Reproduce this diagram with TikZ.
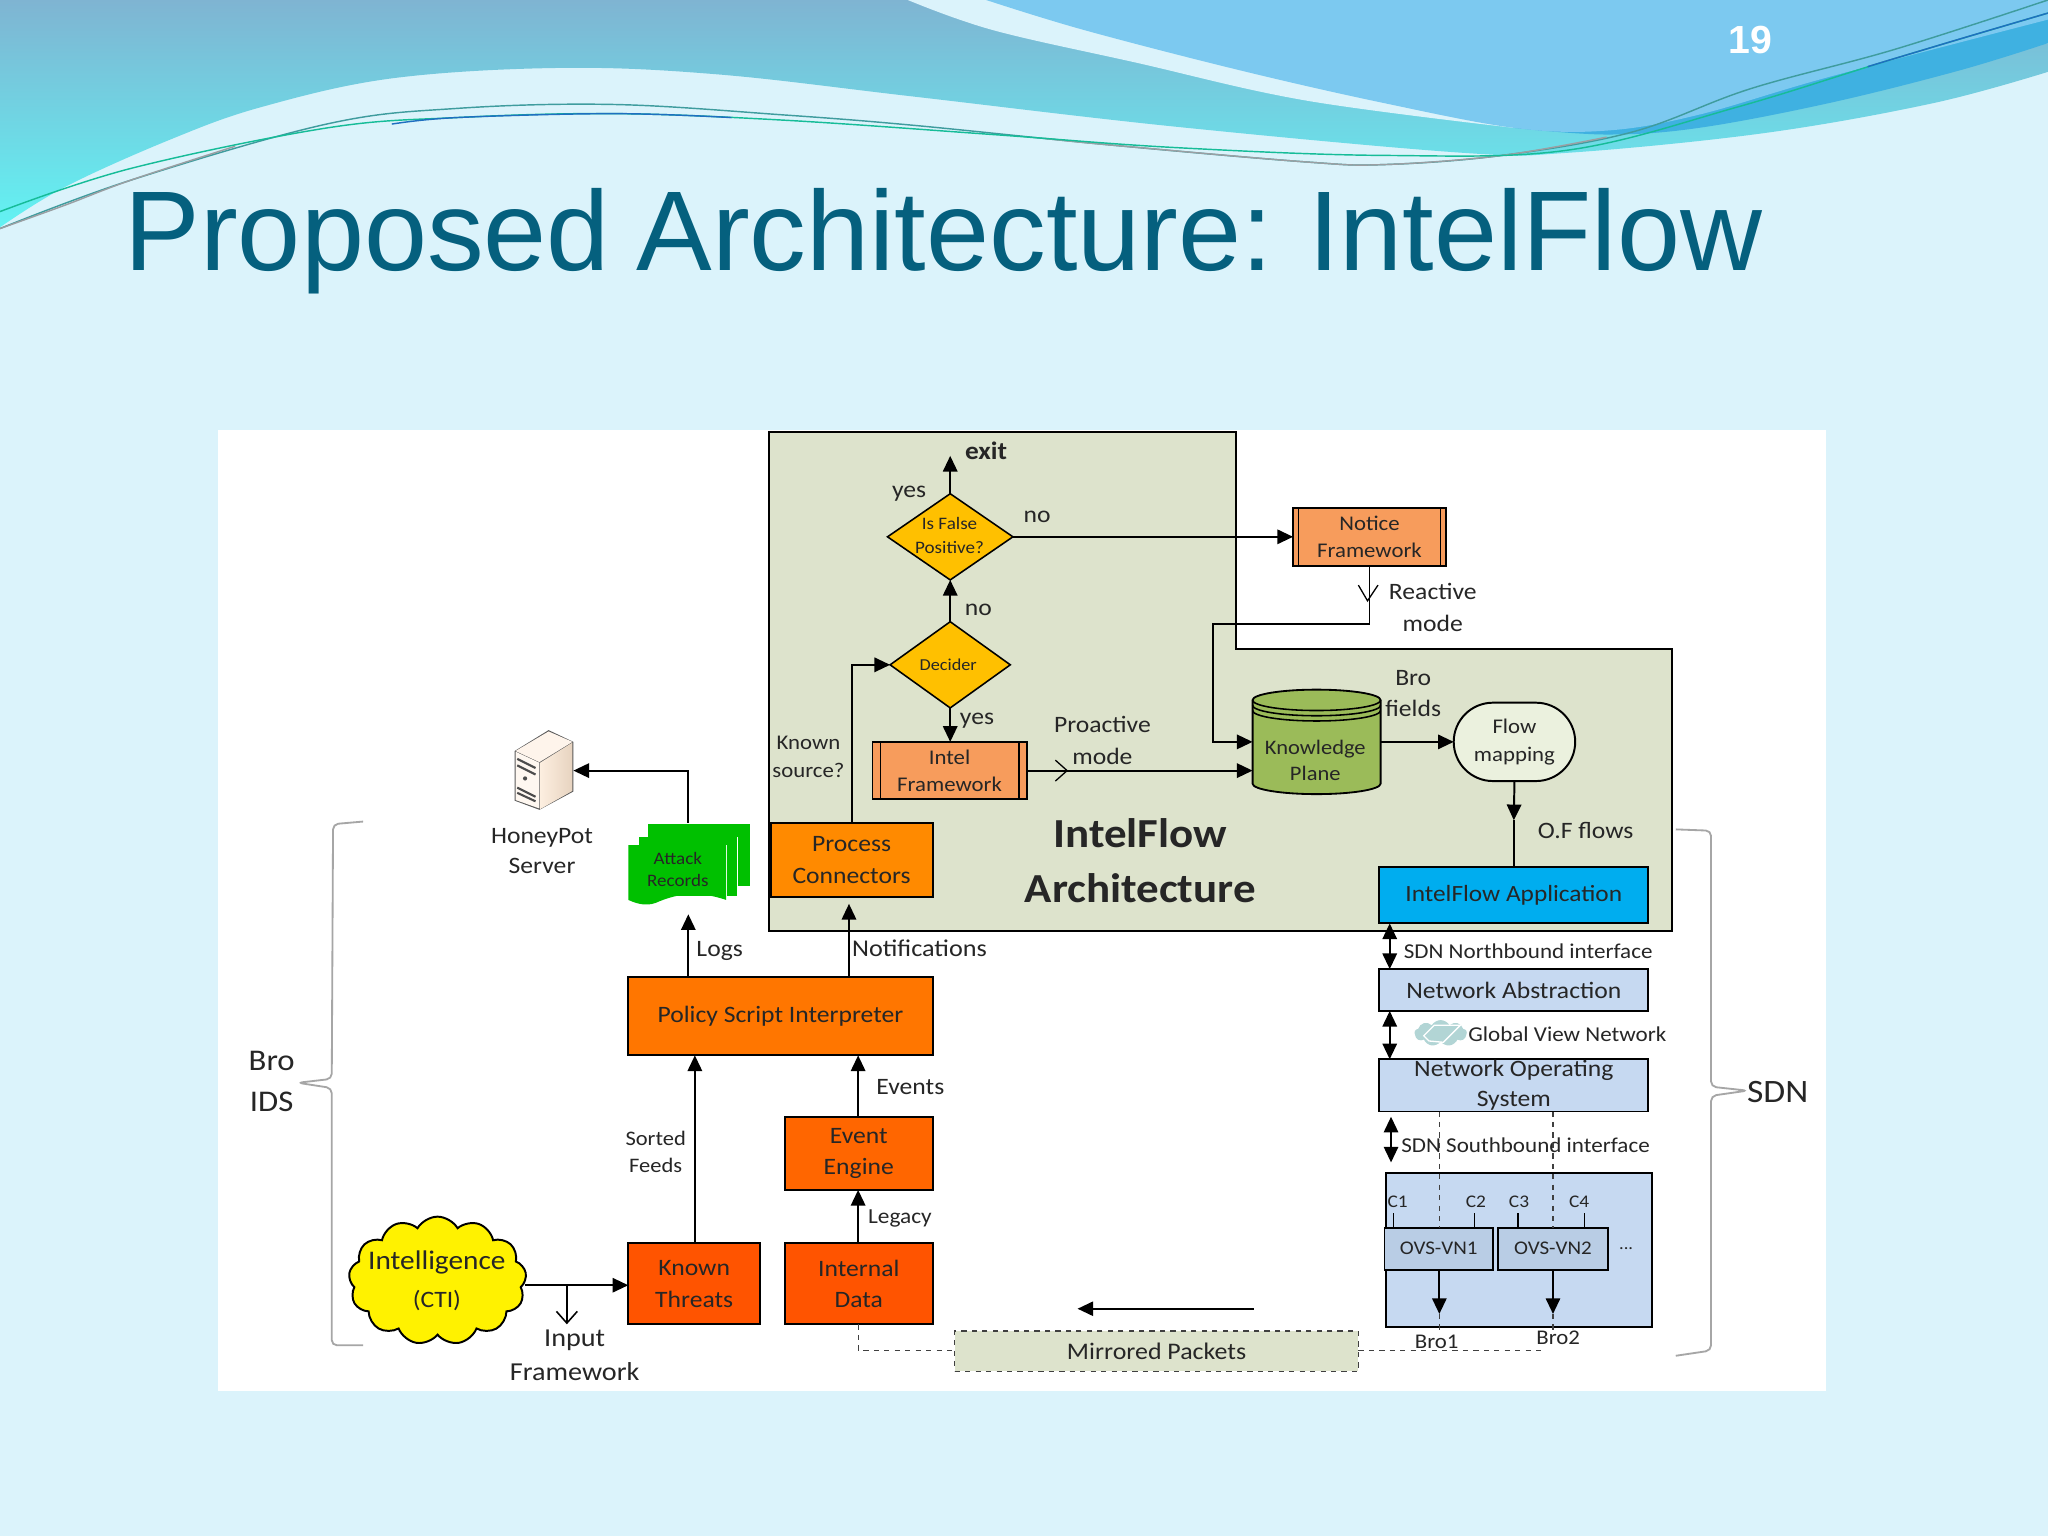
\documentclass[tikz,border=0pt]{standalone}
\usepackage{fontspec}
\setmainfont[FakeStretch=1.09]{Carlito}
\newfontfamily\arialf{Liberation Sans}
\usetikzlibrary{arrows.meta,shapes.geometric,shapes.symbols,calc}
\definecolor{bgc}{HTML}{DBF3FB}
\definecolor{topa}{HTML}{7FB4D2}
\definecolor{topb}{HTML}{62F3F3}
\definecolor{skyc}{HTML}{7CC9F0}
\definecolor{bandc}{HTML}{3FB1E1}
\definecolor{titlec}{HTML}{05607E}
\definecolor{archc}{HTML}{DDE3CC}
\definecolor{txt}{HTML}{262626}
\definecolor{ora}{HTML}{FF8A00}
\definecolor{orb}{HTML}{FF7600}
\definecolor{orc}{HTML}{FF6600}
\definecolor{ord}{HTML}{FF5400}
\definecolor{pea}{HTML}{F79C5C}
\definecolor{dia}{HTML}{FFC000}
\definecolor{kpc}{HTML}{9BBB59}
\definecolor{flowc}{HTML}{EBF1DE}
\definecolor{appc}{HTML}{00ADEF}
\definecolor{sdnc}{HTML}{C6D9F1}
\definecolor{ovsc}{HTML}{B9CDE5}
\definecolor{recc}{HTML}{00C000}
\definecolor{brc}{HTML}{A6A6A6}
\definecolor{swa}{HTML}{3F9C9E}
\definecolor{swb}{HTML}{16BC98}
\definecolor{swc}{HTML}{1F6FC0}
\definecolor{swd}{HTML}{9A9FA3}
\tikzset{
 lin/.style={line width=.75pt,draw=black},
 arr/.style={lin,-{Triangle[length=6pt,width=5.5pt]}},
 darr/.style={lin,{Triangle[length=6pt,width=5.5pt]}-{Triangle[length=6pt,width=5.5pt]}},
 dsh/.style={line width=.45pt,draw=black!75,dash pattern=on 2pt off 2pt},
 bx/.style={draw=black,line width=.75pt,inner sep=0pt,outer sep=0pt,align=center,text=txt,font=\fontsize{9}{12}\selectfont},
 lb/.style={inner sep=0pt,outer sep=0pt,align=center,text=txt,font=\fontsize{9}{12}\selectfont},
 sm/.style={font=\fontsize{8}{10.5}\selectfont},
 dmd/.style={diamond,draw=black,line width=.6pt,fill=dia,inner sep=0pt,outer sep=0pt},
 brace/.style={line width=.7pt,draw=brc,rounded corners=2pt},
 curve/.style={line width=.55pt},
}
\newcommand\bxn[7]{\node[bx,#6,minimum width={(#4-#2)*0.5pt},minimum height={(#5-#3)*0.5pt}] (#1) at ({(#2+#4)/2},{(#3+#5)/2}) {#7};}
\newcommand\lbn[5][]{\node[lb,#1] (#2) at (#3,#4) {#5};}
\begin{document}
\begin{tikzpicture}[x=0.5pt,y=-0.5pt]
\useasboundingbox (0,0) rectangle (1568,1176);
\fill[bgc] (0,0) rectangle (1568,1176);
% top gradient
\shade[top color=topa,bottom color=topb] (0,0) -- (1568,0) -- plot[smooth,tension=.6] coordinates {(1568,55) (1480,79) (1350,102) (1200,117) (1120,117) (900,97) (700,74) (550,57) (430,52) (300,60) (200,82) (130,107) (50,143) (0,174)} -- cycle;
% pale strip
\fill[bgc] plot[smooth,tension=.6] coordinates {(695,0) (760,23) (870,48) (1000,77) (1160,98)} -- (1568,33) -- (1568,0) -- cycle;
% darker band
\fill[bandc] plot[smooth,tension=.6] coordinates {(1160,98) (1230,103) (1300,98) (1400,79) (1500,54) (1568,33)} -- (1568,0) -- cycle;
% sky
\fill[skyc] plot[smooth,tension=.6] coordinates {(755,0) (830,23) (950,54) (1060,79) (1160,98) (1230,100) (1300,88) (1400,59) (1568,15)} -- (1568,0) -- cycle;
% swooshes
\draw[curve,draw=swa] plot[smooth,tension=.6] coordinates {(0,175) (100,138) (250,95) (350,83) (470,80) (600,88) (700,96) (850,111) (1000,124) (1060,126) (1150,119) (1250,101) (1340,68) (1450,38) (1568,0)};
\draw[curve,draw=swd] plot[smooth,tension=.6] coordinates {(0,175) (50,157) (100,138) (180,112)};
\draw[curve,draw=swd] plot[smooth,tension=.6] coordinates {(800,106) (850,111) (1000,124) (1060,126) (1150,119) (1230,105)};
\draw[curve,draw=swb] plot[smooth,tension=.6] coordinates {(0,162) (100,129) (250,98) (350,90) (470,87) (600,92) (760,103) (900,113) (1060,119) (1200,115) (1330,82) (1450,45) (1568,10)};
\draw[curve,draw=swc] plot[smooth,tension=.6] coordinates {(300,95) (350,90) (470,87) (560,90)};
\draw[curve,draw=swc] plot[smooth,tension=.6] coordinates {(1430,51) (1500,30) (1568,10)};
\node[anchor=center,inner sep=0pt,text=white,font=\arialf\bfseries\fontsize{15}{15}\selectfont] (pg) at (1340,31) {19};
\node[anchor=base west,inner sep=0pt,text=titlec,font=\arialf\fontsize{43.4}{46}\selectfont] (title) at (95,207) {Proposed \kern-1.8pt Architecture: \kern-2.5pt IntelFlow};
% white panel
\fill[white] (167,329) rectangle (1398,1065);
% arch region
\path[fill=archc,draw=black,line width=.75pt] (589,331) -- (946,331) -- (946,497) -- (1280,497) -- (1280,713) -- (589,713) -- cycle;
% braces
\coordinate (brA) at (278,629);
\coordinate (brB) at (228,829);
\coordinate (brC) at (278,1030);
\draw[brace] (brA) -- (255,631) -- (254,826) -- (brB) -- (254,833) -- (254,1030) -- (brC);
\coordinate (sdA) at (1283,635);
\coordinate (sdB) at (1338,835);
\coordinate (sdC) at (1283,1038);
\draw[brace] (sdA) -- (1310,636) -- (1310,832) -- (sdB) -- (1310,839) -- (1310,1034) -- (sdC);
\lbn[font=\fontsize{11.5}{15.5}\selectfont]{broids}{208}{828}{Bro\\IDS}
\lbn[font=\fontsize{12.5}{15}\selectfont]{sdn}{1361}{836}{SDN}
% process boxes
\bxn{pc}{590}{630}{714}{687}{fill=ora}{Process\\Connectors}
\bxn{psi}{481}{748}{714}{808}{fill=orb}{Policy Script Interpreter}
\bxn{ee}{601}{855}{714}{911}{fill=orc}{Event\\Engine}
\bxn{kt}{481}{952}{582}{1014}{fill=ord}{Known\\Threats}
\bxn{id}{601}{952}{714}{1014}{fill=ord}{Internal\\Data}
\bxn{intel}{668}{568}{786}{612}{fill=pea,sm}{Intel\\Framework}
\bxn{nf}{990}{389}{1107}{433}{fill=pea,sm}{Notice\\Framework}
\draw[lin,line width=.6pt] ([xshift=3pt]intel.north west) -- ([xshift=3pt]intel.south west);
\draw[lin,line width=.6pt] ([xshift=-3pt]intel.north east) -- ([xshift=-3pt]intel.south east);
\draw[lin,line width=.6pt] ([xshift=2pt]nf.north west) -- ([xshift=2pt]nf.south west);
\draw[lin,line width=.6pt] ([xshift=-2pt]nf.north east) -- ([xshift=-2pt]nf.south east);
% diamonds
\node[dmd,minimum width=48pt,minimum height=33pt,aspect=1.45] (d1) at (727.5,411) {};
\lbn[font=\fontsize{6.7}{9}\selectfont]{d1t}{727}{410}{Is False\\Positive?}
\node[dmd,minimum width=46pt,minimum height=33pt,aspect=1.4] (d2) at (727.5,509) {};
\lbn[font=\fontsize{6.4}{9}\selectfont]{d2t}{726}{509}{Decider}
% labels in arch
\lbn[font=\bfseries\fontsize{9.6}{11}\selectfont]{exit}{755}{345}{exit}
\lbn{yes1}{696}{378}{yes}
\lbn{no1}{794}{396}{no}
\lbn{no2}{749}{467}{no}
\lbn{yes2}{748}{552}{yes}
\lbn[font=\fontsize{8}{10.5}\selectfont]{ks}{619}{579.5}{Known\\source?}
\lbn{pm}{844}{567}{Proactive\\mode}
\lbn{rm}{1097}{465}{Reactive\\mode}
\lbn{bf}{1082}{531}{Bro\\fields}
\lbn{of}{1214}{636}{O.F flows}
\lbn[font=\bfseries\fontsize{15.8}{20.8}\selectfont]{ifa}{873}{659}{IntelFlow\\Architecture}
% knowledge plane
\path[fill=kpc,draw=black,line width=.7pt] (959,536) -- (959,600) arc[start angle=180,end angle=0,x radius=49,y radius=8] -- (1057,536) arc[start angle=0,end angle=-180,x radius=49,y radius=8] -- cycle;
\draw[lin,line width=.6pt] (959,536) arc[start angle=180,end angle=0,x radius=49,y radius=8];
\draw[lin,line width=.6pt] (959,540) arc[start angle=180,end angle=0,x radius=49,y radius=8];
\draw[lin,line width=.6pt] (959,544) arc[start angle=180,end angle=0,x radius=49,y radius=8];
\node[lb,minimum width=49pt,minimum height=40pt] (kp) at (1008,568) {};
\lbn[font=\fontsize{7.9}{10}\selectfont]{kpt}{1007}{582}{Knowledge\\Plane}
% flow mapping
\node[bx,sm,fill=flowc,rounded corners=15pt,minimum width=46.5pt,minimum height=30pt] (fm) at (1159.5,568) {Flow\\mapping};
\bxn{app}{1056}{664}{1262}{707}{fill=appc,font=\fontsize{8.9}{12}\selectfont}{IntelFlow Application}
% connectors in arch
\coordinate (exitp) at (727.5,349);
\draw[arr] (d1.north) -- (exitp);
\draw[arr] (d1.east) -- (nf.west);
\draw[arr] (d2.north) -- (d1.south);
\draw[arr] (d2.south) -- (d2.south |- intel.north);
\coordinate (pcup) at (652,509);
\draw[arr] (pc.north -| pcup) -- (pcup) -- (d2.west);
\coordinate (reac) at (929,478);
\draw[arr] (nf.south) -- (nf.south |- reac) -- (reac) -- (reac |- fm.west) -- (kp.west |- fm.west);
\coordinate (vm) at (1047,460);
\draw[lin,line width=.5pt] (1040,448) -- (vm) -- (1055,448);
\coordinate (proy) at (800,590);
\draw[arr] (intel.east |- proy) -- (kp.west |- proy);
\draw[lin,line width=.5pt] (808,582) -- (817,590) -- (808,598);
\draw[arr] (kp.east |- fm.west) -- (fm.west);
\coordinate (ofa) at (1159,628);
\draw[arr] (fm.south) -- (ofa);
\draw[lin] (ofa) -- (ofa |- app.north);
% left part
\node[cloud,cloud puffs=13,cloud puff arc=120,aspect=1.35,draw=black,line width=.75pt,fill=yellow,inner sep=0pt,outer sep=0pt,minimum width=68pt,minimum height=49pt] (cti) at (335,980.5) {};
\lbn[font=\fontsize{10.3}{14.5}\selectfont]{ctit}{334.5}{980.5}{Intelligence\\{\fontsize{9}{14.5}\selectfont (CTI)}}
\coordinate (inp) at (434,984);
\draw[arr] (cti.east |- inp) -- (kt.west |- inp);
\coordinate (inb) at (434,1013);
\draw[lin,line width=.6pt] (inp) -- (inb);
\draw[lin,line width=.6pt] (426,1004) -- (inb) -- (442,1004);
\lbn[font=\fontsize{9.9}{13}\selectfont]{inf}{440}{1038}{Input\\Framework}
\coordinate (sf) at (532,880);
\draw[arr] (sf |- kt.north) -- (sf |- psi.south);
\lbn[font=\fontsize{7.9}{10.5}\selectfont]{sft}{502}{882}{Sorted\\Feeds}
\coordinate (ev) at (657,880);
\draw[arr] (ee.north -| ev) -- (psi.south -| ev);
\lbn[font=\fontsize{9}{11}\selectfont]{evt}{697}{832}{Events}
\draw[arr] (id.north -| ev) -- (ee.south -| ev);
\lbn[font=\fontsize{8.2}{10}\selectfont]{lg}{689}{933}{Legacy}
\coordinate (lo) at (527,700);
\draw[arr] (psi.north -| lo) -- (lo);
\lbn[font=\fontsize{9}{11}\selectfont]{logs}{551}{728}{Logs}
\coordinate (no) at (650,692);
\draw[arr] (psi.north -| no) -- (no);
\lbn[font=\fontsize{9.2}{11}\selectfont]{not}{704}{726}{Notifications}
% attack records
\fill[recc] (496,631) -- (574,631) -- (574,678) -- (496,678) -- cycle;
\draw[white,line width=.4pt] (489,641) -- (565,641) -- (565,680);
\fill[recc] (489,641) -- (564,641) -- (564,686) -- (489,686) -- cycle;
\draw[white,line width=.4pt] (481,647) -- (556,647) -- (556,688);
\fill[recc] (481,647) -- (556,647) -- (556,689) .. controls (535,682) and (520,684) .. (505,690) .. controls (497,694) and (490,693) .. (481,689) -- cycle;
\node[lb,minimum width=46pt,minimum height=32pt] (ar) at (527.5,662) {};
\lbn[font=\fontsize{6.7}{8.5}\selectfont]{art}{519}{665.5}{Attack\\Records}
% server
\fill[black!65] (394,575) -- (420,559) -- (439,568) -- (439,606) -- (413,620) -- (394,613) -- cycle;
\fill[black!4!orange!8!white] (394.7,575) -- (420,560) -- (438.3,568) -- (413,583.5) -- cycle;
\fill[black!3!orange!6!white] (394.7,575.5) -- (413,584) -- (413,619) -- (394.7,612.5) -- cycle;
\shade[left color=black!8!orange!12!white,right color=black!38!orange!25!white] (413.5,584) -- (438.3,568.5) -- (438.3,605.5) -- (413.5,619.5) -- cycle;
\draw[black!70,line width=.8pt] (396,581) -- (410,588) (396,586) -- (410,593) (396,603) -- (410,610) (396,607) -- (410,613.5);
\fill[black!70] (402,596) circle[radius=1.6];
\node[inner sep=0pt,outer sep=0pt,minimum width=23pt,minimum height=31pt] (srv) at (416,590) {};
\lbn[font=\fontsize{9}{11.7}\selectfont]{hp}{415}{651.5}{HoneyPot\\Server}
\coordinate (arup) at (527,590);
\draw[arr] (arup |- ar.north) -- (arup) -- (srv.east |- arup);
% SDN stack
\bxn{na}{1056}{742}{1262}{774}{fill=sdnc}{Network Abstraction}
\bxn{nos}{1056}{811}{1262}{851}{fill=sdnc,font=\fontsize{9}{11.5}\selectfont}{Network Operating\\System}
\coordinate (sb) at (1064,780);
\draw[darr] (sb |- app.south) -- (sb |- na.north);
\draw[darr] (sb |- na.south) -- (sb |- nos.north);
\lbn[font=\fontsize{8.1}{11}\selectfont]{nb}{1170}{728}{SDN Northbound interface}
\node[cloud,cloud puffs=9,cloud puff arc=120,aspect=2.2,fill=black!10!teal!30!white,inner sep=0pt,outer sep=0pt,minimum width=20pt,minimum height=10pt] (gv) at (1103,791) {};
\draw[white,line width=.5pt] (1090,793) -- (1098,785) -- (1118,785) -- (1105,798) -- (1094,797) -- cycle;
\lbn[font=\fontsize{8.1}{11}\selectfont]{gvt}{1200}{792}{Global View Network}
\coordinate (s1) at (1065,855);
\coordinate (s2) at (1065,890);
\draw[darr] (s1) -- (s2);
\lbn[font=\fontsize{8.1}{11}\selectfont]{sbt}{1168}{877}{SDN Southbound interface}
\bxn{ctr}{1061}{898}{1265}{1016}{fill=sdnc}{}
\bxn{v1}{1060}{940}{1143}{972}{fill=ovsc,font=\fontsize{7.4}{9}\selectfont}{OVS-VN1}
\bxn{v2}{1147}{940}{1231}{972}{fill=ovsc,font=\fontsize{7.4}{9}\selectfont}{OVS-VN2}
\lbn[font=\fontsize{6.5}{9}\selectfont]{dots}{1245}{956}{...}
\lbn[font=\fontsize{6.8}{9}\selectfont]{c1}{1070}{920}{C1}
\lbn[font=\fontsize{6.8}{9}\selectfont]{c2}{1130}{920}{C2}
\lbn[font=\fontsize{6.8}{9}\selectfont]{c3}{1163}{920}{C3}
\lbn[font=\fontsize{6.8}{9}\selectfont]{c4}{1209}{920}{C4}
\coordinate (t1) at (1067,929);
\coordinate (t2) at (1129,929);
\coordinate (t3) at (1162,929);
\coordinate (t4) at (1213,929);
\draw[lin,line width=.6pt] (t1) -- (t1 |- v1.north);
\draw[lin,line width=.6pt] (t2) -- (t2 |- v1.north);
\draw[lin,line width=.6pt] (t3) -- (t3 |- v2.north);
\draw[lin,line width=.6pt] (t4) -- (t4 |- v2.north);
\coordinate (a1) at (1102,1006);
\coordinate (a2) at (1189,1006);
\draw[arr] (a1 |- v1.south) -- (a1);
\draw[arr] (a2 |- v2.south) -- (a2);
\lbn[sm]{b1}{1100}{1027}{Bro1}
\lbn[sm]{b2}{1193}{1024}{Bro2}
\draw[dsh] (a1 |- nos.south) -- (a1 |- v1.north);
\draw[dsh] (a2 |- nos.south) -- (a2 |- v2.north);
\draw[dsh] (a1) -- (a1 |- b1.north);
\draw[dsh] (a2) -- (a2 |- b2.north);
% mirrored
\bxn{mp}{731}{1019}{1040}{1050}{fill=archc,draw=black!75,line width=.45pt,dash pattern=on 2pt off 2pt,font=\fontsize{9.1}{11}\selectfont}{Mirrored Packets}
\coordinate (me) at (1180,1034);
\draw[dsh] (mp.east |- me) -- (me);
\coordinate (dm) at (657,1034);
\draw[dsh] (dm |- id.south) -- (dm) -- (mp.west |- dm);
\coordinate (ma) at (960,1002);
\coordinate (mb) at (825,1002);
\draw[arr] (ma) -- (mb);
\end{tikzpicture}
\end{document}
